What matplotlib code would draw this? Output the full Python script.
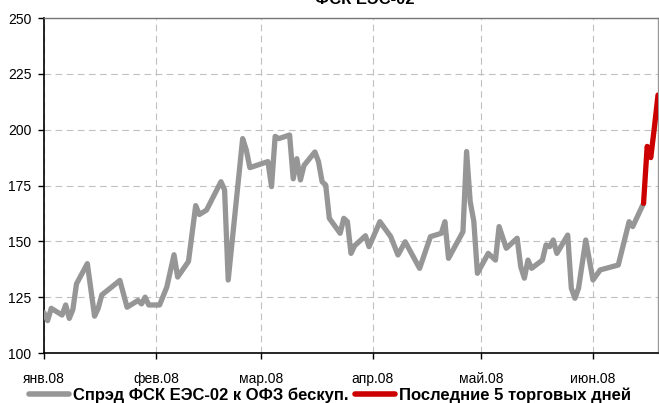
import matplotlib
matplotlib.use("Agg")
import matplotlib.pyplot as plt
import matplotlib.dates as mdates
import numpy as np

plt.rcParams['font.family'] = ['Liberation Sans', 'DejaVu Sans']

title = "ФСК ЕЭС-02"
series_gray_label = "Спрэд ФСК ЕЭС-02 к ОФЗ бескуп."
series_red_label = "Последние 5 торговых дней"

gray_dates = [
    "2008-01-01", "2008-01-02", "2008-01-03", "2008-01-06", "2008-01-07", "2008-01-08",
    "2008-01-09", "2008-01-10", "2008-01-13", "2008-01-15", "2008-01-16", "2008-01-17",
    "2008-01-22", "2008-01-24", "2008-01-27", "2008-01-28", "2008-01-29", "2008-01-30",
    "2008-02-02", "2008-02-04", "2008-02-06", "2008-02-07", "2008-02-10", "2008-02-12",
    "2008-02-13", "2008-02-15", "2008-02-19", "2008-02-20", "2008-02-21", "2008-02-25",
    "2008-02-26", "2008-02-27", "2008-03-03", "2008-03-04", "2008-03-05", "2008-03-06",
    "2008-03-09", "2008-03-10", "2008-03-11", "2008-03-12", "2008-03-13", "2008-03-16",
    "2008-03-17", "2008-03-18", "2008-03-19", "2008-03-20", "2008-03-23", "2008-03-24",
    "2008-03-25", "2008-03-26", "2008-03-27", "2008-03-30", "2008-03-31", "2008-04-03",
    "2008-04-06", "2008-04-08", "2008-04-10", "2008-04-14", "2008-04-17", "2008-04-20",
    "2008-04-21", "2008-04-22", "2008-04-26", "2008-04-27", "2008-04-28", "2008-04-29",
    "2008-04-30", "2008-05-03", "2008-05-05", "2008-05-06", "2008-05-08", "2008-05-11",
    "2008-05-12", "2008-05-13", "2008-05-14", "2008-05-15", "2008-05-18", "2008-05-19",
    "2008-05-20", "2008-05-21", "2008-05-22", "2008-05-25", "2008-05-26", "2008-05-27",
    "2008-05-28", "2008-05-30", "2008-06-01", "2008-06-03", "2008-06-08", "2008-06-11",
    "2008-06-12", "2008-06-15",
]
gray_values = [
    118, 114.5, 120, 117, 121.5, 115.5,
    119.5, 131, 140, 116.5, 120, 126,
    132.5, 120.5, 123.5, 122, 125, 121.5,
    121.5, 129.5, 144, 134, 141, 166,
    162, 164, 176.7, 173, 132.7, 196,
    191, 183, 185.7, 174.5, 197, 196,
    197.6, 178, 187, 177.5, 184, 190,
    185.7, 176.7, 175.2, 160.3, 153.6, 160.3,
    158.8, 144.6, 148, 152.5, 147.6, 158.8,
    152.1, 143.9, 149.8, 137.9, 152.1, 153.6,
    158.8, 142.4, 154.3, 190.2, 167.8, 159,
    135.7, 144.6, 141.6, 156.6, 146.9, 151.4,
    138.6, 133.5, 141.6, 137.9, 141.6, 148.4,
    147.6, 150.6, 144.6, 152.8, 129, 124.5,
    129, 150.6, 132.7, 137.2, 139.4, 158.8,
    156.6, 167,
]
red_dates = ["2008-06-15", "2008-06-16", "2008-06-17", "2008-06-18", "2008-06-19"]
red_values = [167, 192.5, 187.5, 201, 215.5]

month_ticks = ["2008-01-01", "2008-02-01", "2008-03-01", "2008-04-01", "2008-05-01", "2008-06-01"]
month_labels = ["янв.08", "фев.08", "мар.08", "апр.08", "май.08", "июн.08"]
y_ticks = [100, 125, 150, 175, 200, 225, 250]

gd = np.array(gray_dates, dtype="datetime64[D]")
rd = np.array(red_dates, dtype="datetime64[D]")
mt = np.array(month_ticks, dtype="datetime64[D]")

W, H = 659, 403
fig = plt.figure(figsize=(W / 100, H / 100), dpi=100)
ax = fig.add_axes([44 / W, 1 - 353 / H, (658 - 44) / W, (353 - 18) / H])

ax.plot(gd, gray_values, color="#969696", lw=3.8, solid_joinstyle="round",
        solid_capstyle="round", label=series_gray_label, zorder=3)
ax.plot(rd, red_values, color="#CC0000", lw=3.8, solid_joinstyle="round",
        solid_capstyle="round", label=series_red_label, zorder=4)

ax.set_xlim(np.datetime64("2008-01-01"), np.datetime64("2008-06-19") + np.timedelta64(0, "D"))
ax.set_ylim(100, 250)
ax.set_yticks(y_ticks)
ax.set_xticks(mt)
ax.set_xticklabels(month_labels)

ax.grid(True, color="#C0C0C0", linestyle=(0, (6, 4)), linewidth=0.8, zorder=0)
ax.set_axisbelow(True)

for side in ["left", "bottom"]:
    ax.spines[side].set_color("black")
    ax.spines[side].set_linewidth(1.2)
ax.spines["top"].set_color("#777777")
ax.spines["top"].set_linewidth(1.0)
ax.spines["right"].set_color("#999999")
ax.spines["right"].set_linewidth(1.0)

ax.tick_params(axis="y", direction="out", length=4, width=1, labelsize=10, pad=5)
ax.tick_params(axis="x", direction="out", length=4, width=1, labelsize=10, pad=10)

fig.text(365 / W, 1 - 4 / H, title, ha="center", va="baseline",
         fontsize=12, fontweight="bold")

leg = fig.legend(loc="center", bbox_to_anchor=(330 / W, 1 - 395 / H), ncol=2,
                 frameon=False, prop={"weight": "bold", "size": 12},
                 handlelength=2.4, handletextpad=0.25, columnspacing=0.4,
                 borderpad=0, borderaxespad=0)
for line in leg.get_lines():
    line.set_linewidth(4)
    line.set_solid_capstyle("round")

fig.savefig("out.png", dpi=100)
